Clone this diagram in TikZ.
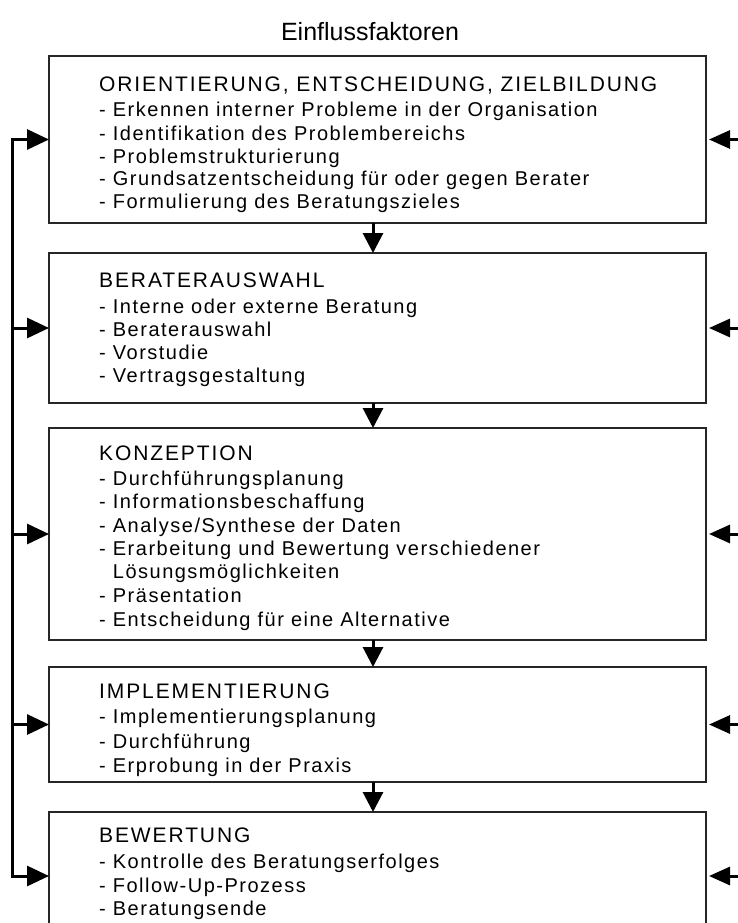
\documentclass[tikz,border=0pt]{standalone}
\usepackage{fontspec}
\setmainfont{Liberation Sans}
\newfontfamily\headfont[LetterSpace=9]{Liberation Sans}
\newfontfamily\itemfont[LetterSpace=7.5]{Liberation Sans}
\usetikzlibrary{arrows.meta,calc}

\begin{document}
\begin{tikzpicture}[x=1pt,y=-1pt,
  phase/.style={draw=black!85,line width=1.8pt,minimum width=657pt,
    inner sep=0pt,outer sep=0pt,anchor=north west},
  headline/.style={anchor=base west,inner sep=0pt,
    font=\headfont\fontsize{21}{25}\selectfont},
  itemline/.style={anchor=base west,inner sep=0pt,
    font=\itemfont\fontsize{20}{24}\selectfont},
  inarrow/.style={line width=3pt,line join=miter,
    -{Triangle[length=22pt,width=20pt]}},
  outarrow/.style={line width=3pt,shorten >=3pt,
    -{Triangle[length=21pt,width=18pt]}},
  downarrow/.style={line width=3pt,
    -{Triangle[length=20pt,width=20pt]}}]

\useasboundingbox (0,0) rectangle (738,923);
\clip (0,0) rectangle (738,923);
\fill[white] (0,0) rectangle (738,923);

% title
\node[anchor=base,inner sep=0pt,font=\fontsize{25}{30}\selectfont]
  (title) at (370,41) {Einflussfaktoren};

% phase boxes
\node[phase,minimum height=167pt] (b1) at (49,56)  {};
\node[phase,minimum height=150pt] (b2) at (49,253) {};
\node[phase,minimum height=212pt] (b3) at (49,428) {};
\node[phase,minimum height=115pt] (b4) at (49,667) {};
\node[phase,minimum height=128pt] (b5) at (49,812) {};

% box 1
\node[headline] (h1) at (99,92) {ORIENTIERUNG, ENTSCHEIDUNG, ZIELBILDUNG};
\node[itemline] (i1a) at (99,117)   {- Erkennen interner Probleme in der Organisation};
\node[itemline] (i1b) at (99,140)   {- Identifikation des Problembereichs};
\node[itemline] (i1c) at (99,163)   {- Problemstrukturierung};
\node[itemline] (i1d) at (99,185.5) {- Grundsatzentscheidung für oder gegen Berater};
\node[itemline] (i1e) at (99,208)   {- Formulierung des Beratungszieles};

% box 2
\node[headline] (h2) at (99,287) {BERATERAUSWAHL};
\node[itemline] (i2a) at (99,313) {- Interne oder externe Beratung};
\node[itemline] (i2b) at (99,336) {- Beraterauswahl};
\node[itemline] (i2c) at (99,359) {- Vorstudie};
\node[itemline] (i2d) at (99,382) {- Vertragsgestaltung};

% box 3
\node[headline] (h3) at (99,460) {KONZEPTION};
\node[itemline] (i3a) at (99,485) {- Durchführungsplanung};
\node[itemline] (i3b) at (99,508) {- Informationsbeschaffung};
\node[itemline] (i3c) at (99,532) {- Analyse/Synthese der Daten};
\node[itemline] (i3d) at (99,555) {- Erarbeitung und Bewertung verschiedener};
\node[itemline] (i3e) at (99,578) {\phantom{- }Lösungsmöglichkeiten};
\node[itemline] (i3f) at (99,602) {- Präsentation};
\node[itemline] (i3g) at (99,626) {- Entscheidung für eine Alternative};

% box 4
\node[headline] (h4) at (99,698) {IMPLEMENTIERUNG};
\node[itemline] (i4a) at (99,723) {- Implementierungsplanung};
\node[itemline] (i4b) at (99,748) {- Durchführung};
\node[itemline] (i4c) at (99,772) {- Erprobung in der Praxis};

% box 5
\node[headline] (h5) at (99,842) {BEWERTUNG};
\node[itemline] (i5a) at (99,868) {- Kontrolle des Beratungserfolges};
\node[itemline] (i5b) at (99,892) {- Follow-Up-Prozess};
\node[itemline] (i5c) at (99,915) {- Beratungsende};

% sequence arrows between the phases
\foreach \a/\b in {b1/b2,b2/b3,b3/b4,b4/b5}
  \draw[downarrow] ([xshift=-4.5pt]\a.south) -- ([xshift=-4.5pt]\b.north);

% feedback bus on the left
\coordinate (busx) at (12,0);
\draw[inarrow] (b5.west -| busx) -- (b1.west -| busx) -- (b1.west);
\draw[inarrow] (b1.west -| busx) -- (b5.west -| busx) -- (b5.west);
\foreach \b in {b2,b3,b4}
  \draw[inarrow] (\b.west -| busx) -- (\b.west);

% external influences from the right
\coordinate (rx) at (738,0);
\foreach \b in {b1,b2,b3,b4,b5}
  \draw[outarrow] (\b.east -| rx) -- (\b.east);

\end{tikzpicture}
\end{document}
